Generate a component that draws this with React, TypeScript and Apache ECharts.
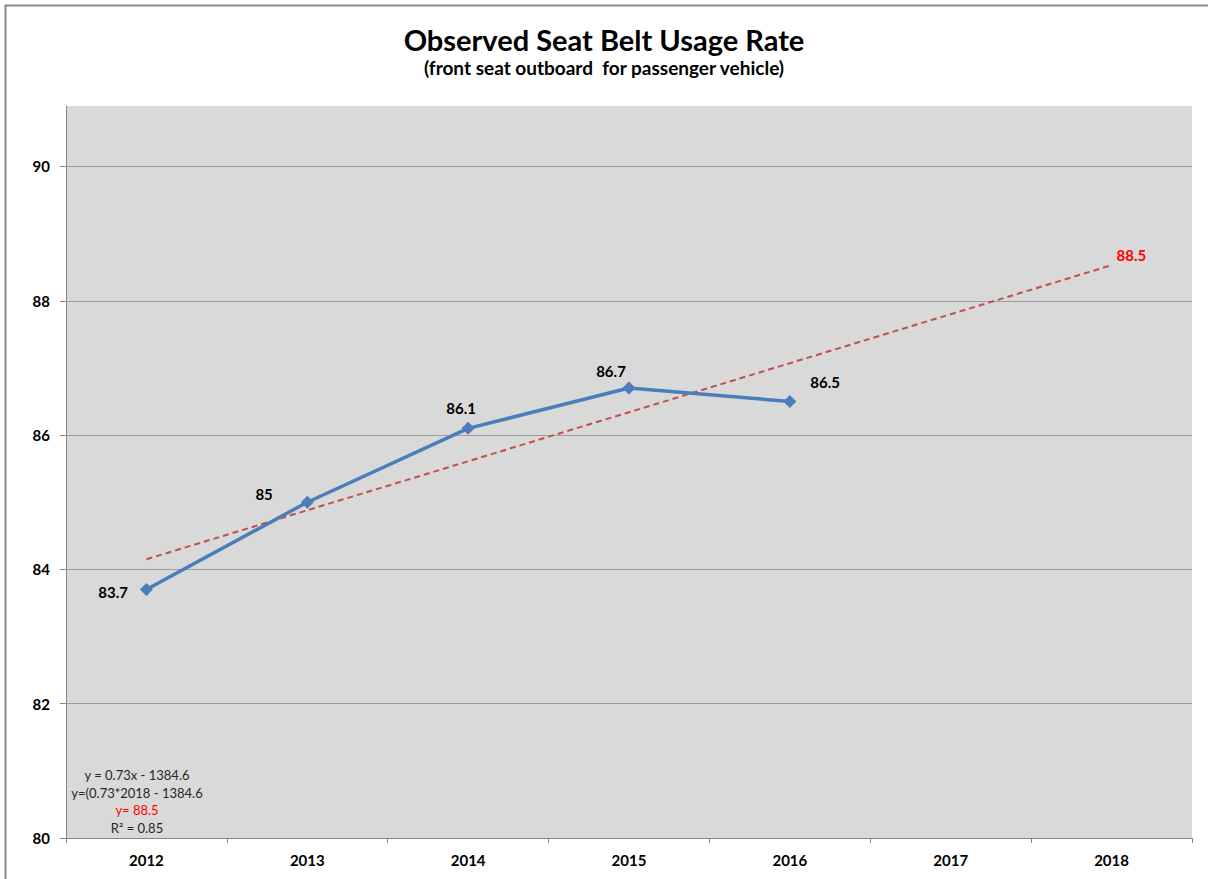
import React, { useEffect, useRef } from "react";
import * as echarts from "echarts";

const years = ["2012", "2013", "2014", "2015", "2016", "2017", "2018"];
const usageRate = [83.7, 85, 86.1, 86.7, 86.5, null, null];
const trendEnds = [84.15, null, null, null, null, null, 88.53];
const trendLabel = "88.5";
const equationLines = ["y = 0.73x - 1384.6", "y=(0.73*2018 - 1384.6", "y= 88.5", "R\u00b2 = 0.85"];
const yTicks = [80, 82, 84, 86, 88, 90];

const FONT = "Lato, 'Open Sans', sans-serif";

const pointLabels: any[] = [
  { position: "left", distance: 12, offset: [0, 2] },
  { position: "left", distance: 28, offset: [0, -8] },
  { position: "top", distance: 6, offset: [-7, 0] },
  { position: "top", distance: 3, offset: [-18, 0] },
  { position: "right", distance: 14, offset: [0, -19] },
];

export default function App() {
  const ref = useRef<HTMLDivElement>(null);
  useEffect(() => {
    if (!ref.current) return;
    const chart = echarts.init(ref.current, null, { renderer: "svg" });
    const blueData = usageRate.map((v, i) =>
      v == null
        ? null
        : {
            value: v,
            label: {
              show: true,
              ...pointLabels[i],
            },
          }
    );
    const trendData = trendEnds.map((v, i) =>
      v == null
        ? null
        : {
            value: v,
            label: {
              show: i === trendEnds.length - 1,
              position: "right",
              distance: 5,
              offset: [0, -10],
              color: "#ff0000",
              fontWeight: "bold",
              fontSize: 15,
              fontFamily: FONT,
              formatter: trendLabel,
            },
          }
    );
    const eqColors = ["#262626", "#262626", "#ff0000", "#262626"];
    chart.setOption({
      animation: false,
      backgroundColor: "#ffffff",
      title: {
        text: "Observed Seat Belt Usage Rate",
        subtext: "(front seat outboard  for passenger vehicle)",
        left: "center",
        top: 20,
        itemGap: 4,
        textStyle: { fontFamily: FONT, fontWeight: "bold", fontSize: 29, color: "#000" },
        subtextStyle: { fontFamily: FONT, fontWeight: "bold", fontSize: 19, color: "#000" },
      },
      grid: {
        left: 66,
        top: 106,
        right: 16,
        bottom: 41,
        show: true,
        backgroundColor: "#d9d9d9",
        borderWidth: 0,
        borderColor: "#d9d9d9",
      },
      xAxis: {
        type: "category",
        data: years,
        boundaryGap: true,
        axisLine: { show: true, lineStyle: { color: "#868686", width: 1 } },
        axisTick: { show: true, alignWithLabel: false, length: 5, lineStyle: { color: "#868686" } },
        axisLabel: { fontFamily: FONT, fontWeight: "bold", fontSize: 15, color: "#000", margin: 14 },
        splitLine: { show: false },
      },
      yAxis: {
        type: "value",
        min: yTicks[0],
        max: 90.9,
        interval: 2,
        axisLine: { show: true, lineStyle: { color: "#868686", width: 1 } },
        axisTick: { show: true, length: 6, customValues: yTicks, lineStyle: { color: "#868686" } },
        axisLabel: {
          fontFamily: FONT,
          fontWeight: "bold",
          fontSize: 15,
          color: "#000",
          margin: 16,
          customValues: yTicks,
          formatter: (v: number) => (yTicks.includes(v) ? String(v) : ""),
        },
        splitLine: { show: false },
      },
      graphic: [
        {
          type: "rect",
          shape: { x: 5.5, y: 5.5, width: 1230, height: 900 },
          style: { fill: "none", stroke: "#888888", lineWidth: 2 },
          silent: true,
          z: 100,
        },
        ...equationLines.map((t, i) => ({
          type: "text",
          x: 137,
          y: 775 + i * 17.5,
          style: {
            text: t,
            fontFamily: FONT,
            fontSize: 13,
            fill: eqColors[i],
            textAlign: "center",
            textVerticalAlign: "middle",
          },
          z: 100,
        })),
      ],
      series: [
        {
          type: "line",
          data: trendData,
          connectNulls: true,
          symbol: "circle",
          symbolSize: 0,
          showSymbol: true,
          lineStyle: { color: "#c0504d", width: 2, type: [6, 4] },
          itemStyle: { color: "#c0504d" },
          z: 3,
          markLine: {
            silent: true,
            symbol: "none",
            label: { show: false },
            lineStyle: { color: "#9d9d9d", width: 1, type: "solid" },
            data: yTicks.slice(1).map((v) => ({ yAxis: v })),
            z: 1,
          },
        },
        {
          type: "line",
          data: blueData,
          symbol: "diamond",
          symbolSize: 13,
          lineStyle: { color: "#4a7ebb", width: 3.5 },
          itemStyle: { color: "#4a7ebb" },
          label: {
            fontFamily: FONT,
            fontWeight: "bold",
            fontSize: 15,
            color: "#000",
          },
          z: 4,
        },
      ],
    });
    return () => chart.dispose();
  }, []);
  return (
    <div
      ref={ref}
      style={{ position: "fixed", left: 0, top: 0, width: 1208, height: 879 }}
    />
  );
}
